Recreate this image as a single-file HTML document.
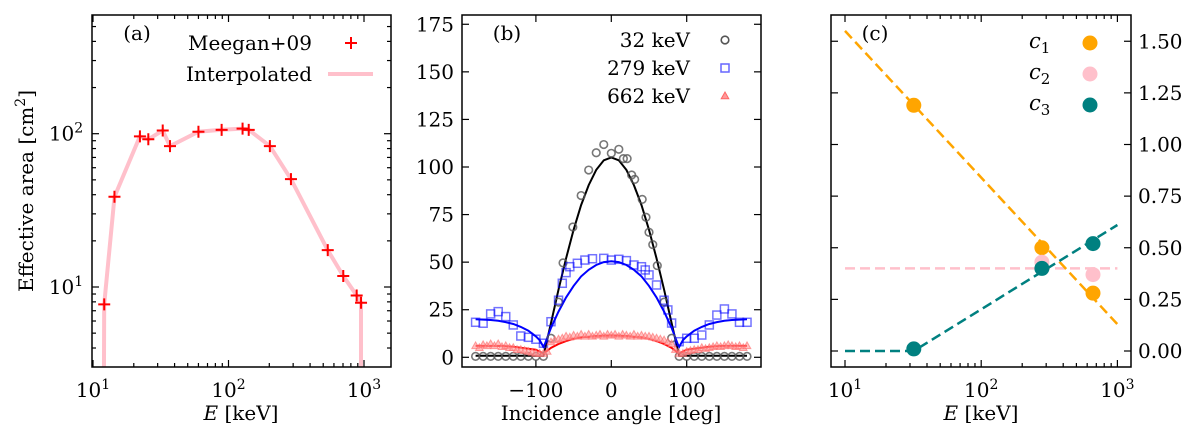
<!DOCTYPE html>
<html><head><meta charset="utf-8">
<style>
html,body{margin:0;padding:0;background:#fff;}
svg{display:block;font-family:"DejaVu Serif","Liberation Serif",serif;}
</style></head>
<body>
<svg id="fig" width="1200" height="435" viewBox="0 0 1200 435" xmlns="http://www.w3.org/2000/svg"></svg>
<script>
// ---------- Panel (a) data ----------
const aEnergy = [12.1,14.4,22.2,25.6,32.7,37,60,89,127,141,202,289,540,703,883,951];
const aArea   = [7.7,38.8,96,92,105,83,103,106,108,106,83,50.5,17.4,11.8,8.8,7.9];
// ---------- Panel (b) data ----------
const b32Angle = [-180,-170,-160,-150,-140,-130,-120,-110,-100,-90,-80,-70,-64,-51,-40,-30,-20,-10,0,10,16,21,27,31,41,46,50,55,61,70,80,90,100,110,120,130,140,150,160,170,180];
const b32Val   = [0.5,0.5,0.5,0.5,0.5,0.5,0.5,0.5,0.5,0.5,10,29,49.6,68.5,85,98.4,107.5,111.8,107.2,109.3,104.4,104.4,95.8,93.5,83,73.6,65.7,59.2,48.2,29,10,0.5,0.5,0.5,0.5,0.5,0.5,0.5,0.5,0.5,0.5];
const b279Angle = [-180,-170,-160,-150,-140,-130,-120,-110,-100,-90,-80,-70,-65,-60,-55,-45,-35,-25,-10,0,10,20,30,40,45,50,60,70,75,80,90,100,110,120,130,140,150,160,170,180];
const b279Val   = [18.4,17.9,22.8,24,21.4,17,11.2,10.5,9.5,7.4,18.7,30,38.9,44.5,47.6,49.4,51.1,51.8,52,51.1,51.5,50.8,48.5,47.6,45.9,43.3,38,30,24.9,18,8.2,10,10,11.7,17,22.2,25.4,22.8,18.4,18.4];
const b662Angle = [-180,-175,-170,-165,-160,-155,-150,-145,-140,-135,-130,-125,-120,-115,-110,-105,-100,-95,-90,-85,-80,-75,-70,-65,-60,-55,-50,-45,-40,-35,-30,-25,-20,-15,-10,-5,0,5,10,15,20,25,30,35,40,45,50,55,60,65,70,75,80,85,90,95,100,105,110,115,120,125,130,135,140,145,150,155,160,165,170,175,180];
const b662Val   = [6,5,6.5,6,7,6,7,5.5,6,5,5,4,4,3.5,3,2.5,2,2,2,3,8,9,9.5,10,11,10.5,11.5,11,12,11,12,11,11.5,12,11,12,11.5,12,11,12,11.5,11,12,11,11.5,11,11,10.5,10,9.5,9,8,7,4,2,2,3,3.5,4,4,5,4.5,5,5.5,6,5.5,6,6.5,6,5.5,6,5,6];
const fitAngle = [-180,-170,-160,-150,-140,-130,-120,-110,-100,-95,-90,-88,-80,-70,-60,-50,-40,-30,-20,-10,0,10,20,30,40,50,60,70,80,88,90,95,100,110,120,130,140,150,160,170,180];
const fit32    = [0.8,0.8,0.8,0.8,0.8,0.8,0.8,0.8,0.8,0.8,0.8,4,18,35.5,52,67,80,90.5,98.5,103.5,105,103.5,98.5,90.5,80,67,52,35.5,18,4,0.8,0.8,0.8,0.8,0.8,0.8,0.8,0.8,0.8,0.8,0.8];
const fit279   = [20,19.8,19.6,19.2,18.5,17.5,16,14,11,9,5.5,7,15.5,24,31.5,37.5,42.5,46,48.5,50,50.5,50,48.5,46,42.5,37.5,31.5,24,15.5,7,5.5,9,11,14,16,17.5,18.5,19.2,19.6,19.8,20];
const fit662   = [6,6,6,6,5.8,5.5,5,4.5,4,3,2,2.5,5,7,8.5,9.7,10.5,10.8,11.2,11.4,11.5,11.4,11.2,10.8,10.5,9.7,8.5,7,5,2.5,2,3,4,4.5,5,5.5,5.8,6,6,6,6];
// ---------- Panel (c) data ----------
const cEnergy = [32,279,662];
const c1Val = [1.19,0.50,0.28];
const c2Energy = [279,662];
const c2Val = [0.43,0.37];
const c3Val = [0.01,0.40,0.52];
const c1LineE = [10,1000], c1LineV = [1.55,0.13];
const c2LineE = [10,1000], c2LineV = [0.40,0.40];
const c3LineE = [10,32,1000], c3LineV = [0,0,0.61];

const FS=20;
const NS="http://www.w3.org/2000/svg";
const svg=document.getElementById('fig');
function el(tag,attrs,parent,text){const e=document.createElementNS(NS,tag);for(const k in attrs)e.setAttribute(k,attrs[k]);if(text!==undefined)e.textContent=text;(parent||svg).appendChild(e);return e;}

const aL=92,aR=391,T=15,B=367;
const ax=v=>93+(Math.log10(v)-1)*135.5;
const ay=v=>287-(Math.log10(v)-1)*153.3;
const bL=462,bR=761;
const bx=v=>611.3+v*0.754;
const by=v=>357.3-v*1.903;
const cL=831,cR=1131;
const cx=v=>845+(Math.log10(v)-1)*136.2;
const cy=v=>351-v*206.5;

function frame(L,R,name){const r=el('rect',{x:L,y:T,width:R-L,height:B-T,fill:'none',stroke:'#000','stroke-width':1.5},svg);}
function tick(x1,y1,x2,y2){el('line',{x1,y1,x2,y2,stroke:'#000','stroke-width':1.2});}
function txt(x,y,s,anchor,size,name){const t=el('text',{x,y,'text-anchor':anchor||'middle','font-size':size||FS,fill:'#000'},svg,s);return t;}
function logText(x,y,exp,name){const t=el('text',{x,y,'text-anchor':'middle','font-size':FS},svg);el('tspan',{},t,'10');el('tspan',{dy:-8,'font-size':14},t,String(exp));return t;}
function poly(xs,ys,fx,fy,attrs,name,clip){const pts=xs.map((v,i)=>fx(v).toFixed(1)+','+fy(ys[i]).toFixed(1)).join(' ');const p=el('polyline',Object.assign({points:pts,fill:'none'},attrs));if(clip)p.setAttribute('clip-path',clip);return p;}

const defs=el('defs',{});
[['ca',aL,aR],['cb',bL,bR],['cc',cL,cR]].forEach(([id,L,R])=>{const c=el('clipPath',{id},defs);el('rect',{x:L,y:T,width:R-L,height:B-T},c);});

// ===== Panel (a) =====
for(let d=1;d<=3;d++){const x=ax(Math.pow(10,d));if(x>=aL&&x<=aR){tick(x,B,x,B-7);tick(x,T,x,T+7);}logText(x,397,d,'x-tick-a-'+d);}
for(let d=0;d<3;d++)for(let m=2;m<=9;m++){const x=ax(m*Math.pow(10,d+1));if(x>aL&&x<aR){tick(x,B,x,B-4);tick(x,T,x,T+4);}}
[1,2].forEach(d=>{const y=ay(Math.pow(10,d));tick(aL,y,aL+7,y);tick(aR,y,aR-7,y);logText(66,y+7,d,'y-tick-a-'+d);});
for(let d=0;d<3;d++)for(let m=2;m<=9;m++){const y=ay(m*Math.pow(10,d));if(y>T&&y<B){tick(aL,y,aL+4,y);tick(aR,y,aR-4,y);}}
poly([12.0].concat(aEnergy).concat([951]),[1].concat(aArea).concat([1]),ax,ay,{stroke:'#ffc0cb','stroke-width':4},'interpolated-line','url(#ca)');
aEnergy.forEach((e,i)=>{const x=ax(e),y=ay(aArea[i]);const g=el('path',{d:`M${x-6},${y}H${x+6}M${x},${y-6}V${y+6}`,stroke:'#ff0000','stroke-width':2});});
frame(aL,aR,'plot-frame-a');
txt(137,40,'(a)','middle',FS,'panel-label-a');
txt(312,50,'Meegan+09','end',FS,'legend-meegan');
el('path',{d:'M345,43H357M351,37V49',stroke:'#ff0000','stroke-width':2});
txt(312,81,'Interpolated','end',FS,'legend-interpolated');
el('line',{x1:328,y1:74,x2:373,y2:74,stroke:'#ffc0cb','stroke-width':4});
const yl=el('text',{x:0,y:0,'text-anchor':'middle','font-size':FS,transform:'translate(33,191) rotate(-90)'},svg);

el('tspan',{},yl,'Effective area [cm');el('tspan',{dy:-8,'font-size':14},yl,'2');el('tspan',{dy:8},yl,']');
function eLabel(x,name){const t=el('text',{x,y:420,'text-anchor':'middle','font-size':FS},svg);el('tspan',{'font-style':'italic'},t,'E');el('tspan',{},t,' [keV]');}
eLabel(241,'x-axis-title-a');

// ===== Panel (b) =====
[-100,0,100].forEach(v=>{const x=bx(v);tick(x,B,x,B-7);tick(x,T,x,T+7);txt(x,397,v<0?'\u2212'+(-v):String(v),'middle',FS,'x-tick-b');});
[0,25,50,75,100,125,150,175].forEach(v=>{const y=by(v);tick(bL,y,bL+7,y);tick(bR,y,bR-7,y);txt(454,y+7,String(v),'end',FS,'y-tick-b');});
poly(fitAngle,fit32,bx,by,{stroke:'#000','stroke-width':2},'fit-32kev','url(#cb)');
poly(fitAngle,fit279,bx,by,{stroke:'#0000ff','stroke-width':2},'fit-279kev','url(#cb)');
poly(fitAngle,fit662,bx,by,{stroke:'#ff0000','stroke-width':2},'fit-662kev','url(#cb)');
b32Angle.forEach((a,i)=>{const c=el('circle',{cx:bx(a),cy:by(b32Val[i]),r:3.8,fill:'none',stroke:'#555','stroke-opacity':0.8,'stroke-width':1.6});});
b279Angle.forEach((a,i)=>{const x=bx(a),y=by(b279Val[i]);const r=el('rect',{x:x-4,y:y-4,width:8,height:8,fill:'none',stroke:'#0000ff','stroke-opacity':0.55,'stroke-width':1.5});});
b662Angle.forEach((a,i)=>{const x=bx(a),y=by(b662Val[i]);const p=el('path',{d:`M${x},${y-4}L${x+3.8},${y+2.7}L${x-3.8},${y+2.7}Z`,fill:'#ff9999','fill-opacity':0.6,stroke:'#ff6666','stroke-opacity':0.6,'stroke-width':1});});
frame(bL,bR,'plot-frame-b');
txt(507,40,'(b)','middle',FS,'panel-label-b');
txt(690,47,'32 keV','end',FS,'legend-32kev');
el('circle',{cx:725,cy:40,r:3.8,fill:'none',stroke:'#555','stroke-width':1.6});
txt(690,75,'279 keV','end',FS,'legend-279kev');
el('rect',{x:721,y:64,width:8,height:8,fill:'none',stroke:'#0000ff','stroke-opacity':0.6,'stroke-width':1.5});
txt(690,103,'662 keV','end',FS,'legend-662kev');
el('path',{d:'M725,92L728.8,98.7L721.2,98.7Z',fill:'#ff9999',stroke:'#ff6666','stroke-width':1});
txt(611,420,'Incidence angle [deg]','middle',FS,'x-axis-title-b');

// ===== Panel (c) =====
for(let d=1;d<=3;d++){const x=cx(Math.pow(10,d));tick(x,B,x,B-7);tick(x,T,x,T+7);logText(x,397,d,'x-tick-c-'+d);}
for(let d=0;d<3;d++)for(let m=2;m<=9;m++){const x=cx(m*Math.pow(10,d+1));if(x>cL&&x<cR){tick(x,B,x,B-4);tick(x,T,x,T+4);}}
[0,0.25,0.5,0.75,1,1.25,1.5].forEach(v=>{const y=cy(v);tick(cL,y,cL+7,y);tick(cR,y,cR-7,y);txt(1138,y+7,v.toFixed(2),'start',FS,'y-tick-c');});
poly(c2LineE,c2LineV,cx,cy,{stroke:'#ffc0cb','stroke-width':2.5,'stroke-dasharray':'10,5'},'c2-line');
poly(c1LineE,c1LineV,cx,cy,{stroke:'#ffa500','stroke-width':2.5,'stroke-dasharray':'10,5'},'c1-line');
poly(c3LineE,c3LineV,cx,cy,{stroke:'#008080','stroke-width':2.5,'stroke-dasharray':'10,5'},'c3-line');
cEnergy.forEach((e,i)=>{const c=el('circle',{cx:cx(e),cy:cy(c1Val[i]),r:7.5,fill:'#ffa500'});});
c2Energy.forEach((e,i)=>{const c=el('circle',{cx:cx(e),cy:cy(c2Val[i]),r:7.5,fill:'#ffc0cb'});});
cEnergy.forEach((e,i)=>{const c=el('circle',{cx:cx(e),cy:cy(c3Val[i]),r:7.5,fill:'#008080'});});
frame(cL,cR,'plot-frame-c');
txt(875,40,'(c)','middle',FS,'panel-label-c');
[['1','#ffa500',43],['2','#ffc0cb',74],['3','#008080',105]].forEach(([n,col,y])=>{
  const t=el('text',{x:1029,y:y+5,'font-size':21},svg);
  el('tspan',{'font-style':'italic'},t,'c');el('tspan',{dy:5,'font-size':15},t,n);
  el('circle',{cx:1090,cy:y,r:7.5,fill:col});
});
eLabel(981,'x-axis-title-c');
</script>
</body></html>
